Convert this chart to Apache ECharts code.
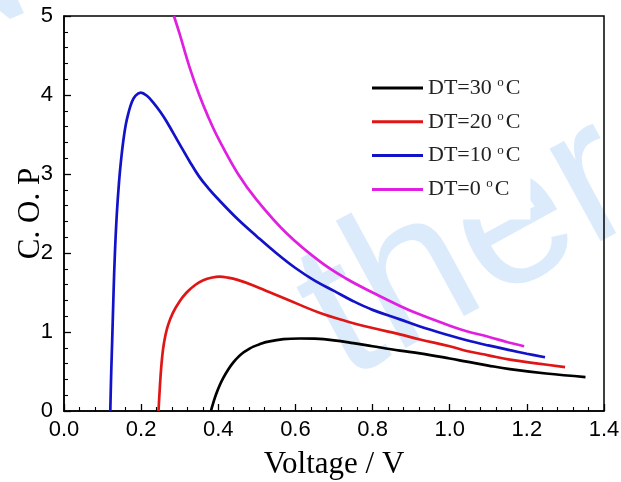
<!DOCTYPE html>
<html>
<head>
<meta charset="utf-8">
<script src="https://cdn.jsdelivr.net/npm/echarts@6/dist/echarts.min.js"></script>
<style>html,body{margin:0;padding:0;background:#fff}#c{width:621px;height:482px}</style>
</head>
<body>
<div id="c"></div>
<script>
// Series names (legend text)
const seriesNames = ['DT=30 °C', 'DT=20 °C', 'DT=10 °C', 'DT=0 °C'];
const seriesColors = ['#000000', '#e01616', '#1212c8', '#e020e0'];

// DT = 30 °C  (voltage, C.O.P)
const dt30X = [0.381, 0.385, 0.39, 0.396, 0.404, 0.413, 0.425, 0.439, 0.452, 0.465, 0.478, 0.491, 0.51, 0.526, 0.569, 0.612, 0.65, 0.7, 0.75, 0.8, 0.871, 0.923, 1.0, 1.044, 1.1, 1.156, 1.25, 1.352];
const dt30Y = [0.0, 0.07, 0.15, 0.235, 0.33, 0.42, 0.52, 0.615, 0.685, 0.74, 0.78, 0.815, 0.85, 0.875, 0.91, 0.918, 0.915, 0.895, 0.86, 0.82, 0.765, 0.73, 0.665, 0.625, 0.575, 0.53, 0.475, 0.43];

// DT = 20 °C
const dt20X = [0.245, 0.248, 0.252, 0.257, 0.263, 0.27, 0.282, 0.3, 0.318, 0.34, 0.361, 0.385, 0.403, 0.425, 0.45, 0.491, 0.53, 0.577, 0.664, 0.73, 0.8, 0.871, 0.923, 1.0, 1.044, 1.1, 1.156, 1.23, 1.299];
const dt20Y = [0.0, 0.26, 0.55, 0.79, 0.96, 1.09, 1.24, 1.39, 1.5, 1.595, 1.655, 1.69, 1.70, 1.688, 1.66, 1.59, 1.51, 1.415, 1.24, 1.14, 1.05, 0.97, 0.905, 0.82, 0.76, 0.705, 0.65, 0.6, 0.555];

// DT = 10 °C
const dt10X = [0.12, 0.1225, 0.125, 0.1285, 0.132, 0.137, 0.143, 0.148, 0.154, 0.16, 0.167, 0.175, 0.185, 0.199, 0.215, 0.232, 0.25, 0.266, 0.3, 0.325, 0.35, 0.375, 0.4, 0.45, 0.5, 0.55, 0.6, 0.65, 0.7, 0.75, 0.8, 0.871, 0.923, 1.0, 1.044, 1.1, 1.156, 1.2, 1.247];
const dt10Y = [0.0, 0.5, 0.9, 1.5, 2.0, 2.5, 2.92, 3.18, 3.43, 3.62, 3.77, 3.9, 3.99, 4.03, 3.99, 3.90, 3.785, 3.665, 3.375, 3.165, 2.97, 2.815, 2.68, 2.43, 2.21, 2.0, 1.81, 1.65, 1.52, 1.39, 1.28, 1.16, 1.07, 0.955, 0.895, 0.83, 0.77, 0.725, 0.68];

// DT = 0 °C
const dt0X = [0.285, 0.3, 0.325, 0.35, 0.375, 0.4, 0.45, 0.5, 0.577, 0.664, 0.73, 0.8, 0.871, 0.923, 1.0, 1.044, 1.1, 1.15, 1.193];
const dt0Y = [5.0, 4.77, 4.36, 4.01, 3.71, 3.45, 3.01, 2.67, 2.25, 1.89, 1.68, 1.50, 1.33, 1.22, 1.08, 1.01, 0.94, 0.87, 0.82];

// Axis ticks
const xTicks = [0.0, 0.2, 0.4, 0.6, 0.8, 1.0, 1.2, 1.4];
const yTicks = [0, 1, 2, 3, 4, 5];

const xs = [dt30X, dt20X, dt10X, dt0X];
const ys = [dt30Y, dt20Y, dt10Y, dt0Y];

const chart = echarts.init(document.getElementById('c'));
const sans = '"Liberation Sans", Arial, sans-serif';
const serif = '"Liberation Serif", "Times New Roman", serif';
const wmColor = '#dcebfc';

const series = seriesNames.map((n, i) => ({
  name: n,
  type: 'line',
  smooth: 0.4,
  showSymbol: false,
  symbol: 'none',
  clip: true,
  z: 3,
  lineStyle: { color: seriesColors[i], width: 2.7 },
  itemStyle: { color: seriesColors[i] },
  data: xs[i].map((x, k) => [x, ys[i][k]])
}));

chart.setOption({
  animation: false,
  backgroundColor: '#fff',
  grid: { left: 64, right: 17, top: 16, bottom: 71, outerBoundsMode: 'none', containLabel: false,
    show: true, borderColor: '#000', borderWidth: 1.5, backgroundColor: 'transparent', z: 2 },
  graphic: [{
    type: 'text', x: 318, y: 333, rotation: 0.5, z: 1, zlevel: 0, silent: true,
    style: { text: 'ther', font: '200px ' + sans, fill: wmColor, align: 'left', verticalAlign: 'middle' }
  }, {
    type: 'polygon', z: 1, silent: true,
    shape: { points: [[0, 0], [18, 0], [24, 13], [10, 19], [0, 11]] },
    style: { fill: wmColor }
  }],
  legend: {
    orient: 'vertical', left: 362, top: 56,
    padding: [20, 10, 19, 10],
    backgroundColor: '#fff',
    itemWidth: 51, itemHeight: 3, itemGap: 10.8,
    icon: 'rect',
    data: seriesNames,
    formatter: function (name) {
      const base = name.replace(' °C', '');
      return '{t|' + base + ' }{s|o}{t|C}';
    },
    textStyle: {
      color: '#222', fontFamily: serif, fontSize: 22, lineHeight: 22,
      rich: {
        t: { fontFamily: serif, fontSize: 22, color: '#222', lineHeight: 22 },
        s: { fontFamily: serif, fontSize: 13, color: '#222', lineHeight: 10, verticalAlign: 'bottom', padding: [0, 2, 10, 0] }
      }
    }
  },
  xAxis: {
    type: 'value', min: 0, max: 1.4, interval: 0.2,
    axisLine: { show: true, onZero: false, lineStyle: { color: '#000', width: 1.5 } },
    axisTick: { show: true, inside: true, length: 7, lineStyle: { color: '#000', width: 1.3 } },
    minorTick: { show: true, splitNumber: 5, length: 4, lineStyle: { color: '#000', width: 1.1 } },
    splitLine: { show: false },
    axisLabel: { color: '#000', fontFamily: sans, fontSize: 22, margin: 8, hideOverlap: false,
      formatter: v => { const t = xTicks.find(a => Math.abs(a - v) < 1e-6); return t === undefined ? '' : t.toFixed(1); } },
    name: 'Voltage / V', nameLocation: 'middle', nameGap: 38, nameMoveOverlap: false,
    nameTextStyle: { color: '#000', fontFamily: serif, fontSize: 31 }
  },
  yAxis: {
    type: 'value', min: 0, max: 5, interval: 1,
    axisLine: { show: true, onZero: false, lineStyle: { color: '#000', width: 1.5 } },
    axisTick: { show: true, inside: true, length: 7, lineStyle: { color: '#000', width: 1.3 } },
    minorTick: { show: true, splitNumber: 5, length: 4, lineStyle: { color: '#000', width: 1.1 } },
    splitLine: { show: false },
    axisLabel: { color: '#000', fontFamily: sans, fontSize: 22, margin: 11, hideOverlap: false,
      formatter: v => { const t = yTicks.find(a => Math.abs(a - v) < 1e-6); return t === undefined ? '' : String(t); } },
    name: 'C. O. P', nameLocation: 'middle', nameGap: 18, nameRotate: 90, nameMoveOverlap: false,
    nameTextStyle: { color: '#000', fontFamily: serif, fontSize: 31 }
  },
  series: series
});
</script>
</body>
</html>
